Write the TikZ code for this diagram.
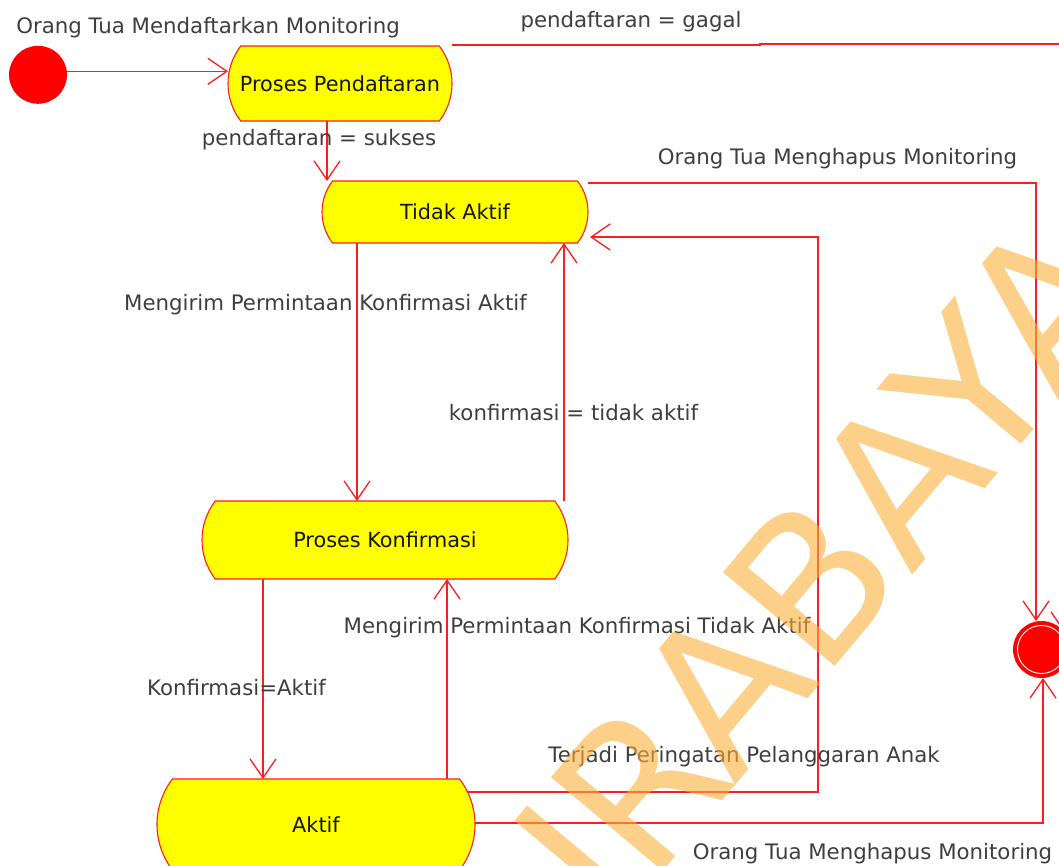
\documentclass[tikz,border=0pt]{standalone}
\usepackage{fontspec}
\setmainfont{DejaVu Sans}
\usetikzlibrary{shapes.misc,arrows.meta,calc,backgrounds}
\definecolor{linered}{RGB}{255,28,28}
\definecolor{stateyellow}{RGB}{255,255,0}
\definecolor{labelgray}{RGB}{62,62,62}
\definecolor{statetext}{RGB}{22,22,0}
\definecolor{markorange}{RGB}{251,176,59}
\begin{document}
\begin{tikzpicture}[x=1pt,y=-1pt,
  every node/.style={inner sep=0pt,outer sep=0pt},
  stbox/.style={rounded rectangle,rounded rectangle arc length=75,
    draw=linered,line width=1.1pt,fill=stateyellow,text=statetext,
    font=\fontsize{20.8}{25}\selectfont},
  lbl/.style={text=labelgray,anchor=base,font=\fontsize{21.3}{25}\selectfont},
  tr/.style={draw=linered,line width=1.3pt,
    -{Straight Barb[length=19pt,width=26pt,line width=1.3pt]}},
]
\useasboundingbox (0,0) rectangle (1059,866);

% states
\node[circle,fill=red,minimum size=58pt] (init) at (38,74.8) {};
\node[stbox,minimum width=224pt,minimum height=75pt] (pend) at (340,83.5) {Proses Pendaftaran};
\node[stbox,minimum width=266pt,minimum height=62pt] (tidak) at (455,212) {Tidak Aktif};
\node[stbox,minimum width=366pt,minimum height=78pt] (konf) at (385,540) {Proses Konfirmasi};
\node[stbox,minimum width=318pt,minimum height=91pt] (aktif) at (316,824.5) {Aktif};
\node[circle,fill=red,minimum size=57pt] (final) at (1041.5,649.5) {};
\draw[white,line width=0.9pt] (final.center) circle[radius=24pt];

% bend points of the routed transitions
\coordinate (pelA) at (818,792);
\coordinate (pelB) at (818,237);
\coordinate (delA) at (1036,183);
\coordinate (delB) at (1043,823);
\coordinate (failA) at (760,45);
\coordinate (failB) at (760,44);
\coordinate (failC) at (1064,44);

% transitions
\begin{scope}[on background layer]
\draw[tr] ($(init.center)+(0,-3.5)$) -- ($(init.center -| pend.west)+(0,-3.5)$);
\draw[tr] (pend.center -| 327,0) -- (tidak.north -| 327,0);
\draw[tr] (pend.east |- failA) -- (failA) -- (failB) -- (failC)
  -- ($(failC |- final.center)+(0,-17.5)$);
\draw[tr] (tidak.center -| 357,0) -- (konf.north -| 357,0);
\draw[tr] (konf.north -| 564,0) -- (tidak.south -| 564,0);
\draw[tr] (konf.center -| 263,0) -- (aktif.north -| 263,0);
\draw[tr] (aktif.center -| 447,0) -- (konf.south -| 447,0);
\draw[tr] (aktif.center |- pelA) -- (pelA) -- (pelB) -- ($(tidak.east |- pelB)+(2,0)$);
\draw[tr] (tidak.east |- delA) -- (delA) -- (delA |- final.north);
\draw[tr] (aktif.center |- delB) -- (delB) -- (delB |- final.south);
\end{scope}

% transition labels
\node[lbl] (lInit) at (208,33.5) {Orang Tua Mendaftarkan Monitoring};
\node[lbl] (lGagal) at (631,28) {pendaftaran = gagal};
\node[lbl] (lSukses) at (319,145.5) {pendaftaran = sukses};
\node[lbl] (lDel1) at (837.5,165) {Orang Tua Menghapus Monitoring};
\node[lbl] (lReqA) at (325.5,310) {Mengirim Permintaan Konfirmasi Aktif};
\node[lbl] (lConfN) at (573.5,420) {konfirmasi = tidak aktif};
\node[lbl] (lReqN) at (577,633) {Mengirim Permintaan Konfirmasi Tidak Aktif};
\node[lbl] (lConfY) at (236.5,695) {Konfirmasi=Aktif};
\node[lbl] (lWarn) at (744,762.5) {Terjadi Peringatan Pelanggaran Anak};
\node[lbl] (lDel2) at (872.5,859) {Orang Tua Menghapus Monitoring};

% watermark
\node[anchor=base west,rotate=50,text=markorange,text opacity=0.6,
  font=\fontsize{200}{200}\selectfont] (mark) at (475,1096) {SURABAYA};
\end{tikzpicture}
\end{document}
